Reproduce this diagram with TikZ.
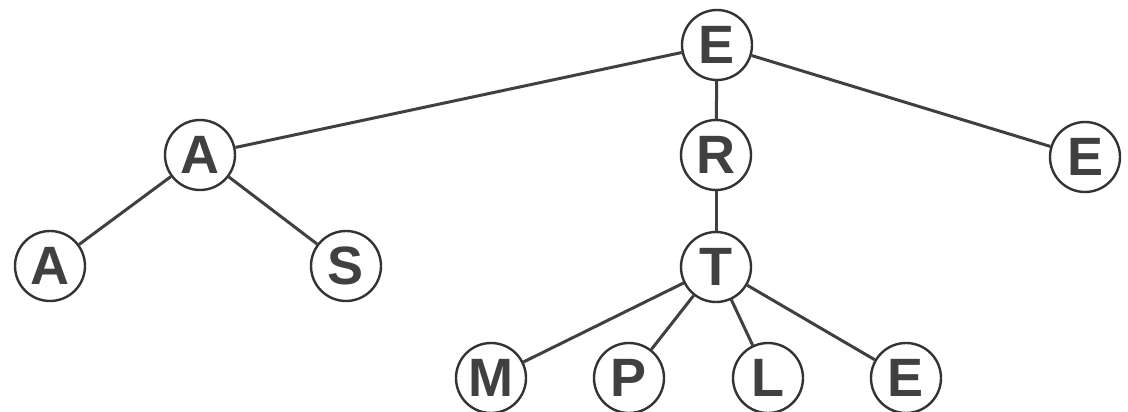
\documentclass[tikz,border=0pt]{standalone}
\usepackage{fontspec}
\setmainfont{Liberation Sans}
\begin{document}
\begin{tikzpicture}[x=1pt,y=-1pt,
  letter/.style={circle,draw=black!80,line width=2.4pt,minimum size=70pt,inner sep=0pt,
    text=black!75,font=\fontsize{54}{54}\selectfont\bfseries},
  branch/.style={draw=black!75,line width=3pt}]
\useasboundingbox (0,0) rectangle (1128,412);
% root
\node[letter] (e0) at (717,45) {E};
% second level
\node[letter] (a1) at (200,155) {A};
\node[letter] (r)  at (716,155) {R};
\node[letter] (e1) at (1085,157) {E};
% third level
\node[letter] (a2) at (50,266) {A};
\node[letter] (s)  at (346,266) {S};
\node[letter] (t)  at (716,267) {T};
% leaves under T
\node[letter] (m)  at (491,378) {M};
\node[letter] (p)  at (629,378) {P};
\node[letter] (l)  at (768,378) {L};
\node[letter] (e2) at (906,378) {E};
% branches
\draw[branch] (e0) -- (a1);
\draw[branch] (e0) -- (r);
\draw[branch] (e0) -- (e1);
\draw[branch] (a1) -- (a2);
\draw[branch] (a1) -- (s);
\draw[branch] (r) -- (t);
\draw[branch] (t) -- (m);
\draw[branch] (t) -- (p);
\draw[branch] (t) -- (l);
\draw[branch] (t) -- (e2);
\end{tikzpicture}
\end{document}
